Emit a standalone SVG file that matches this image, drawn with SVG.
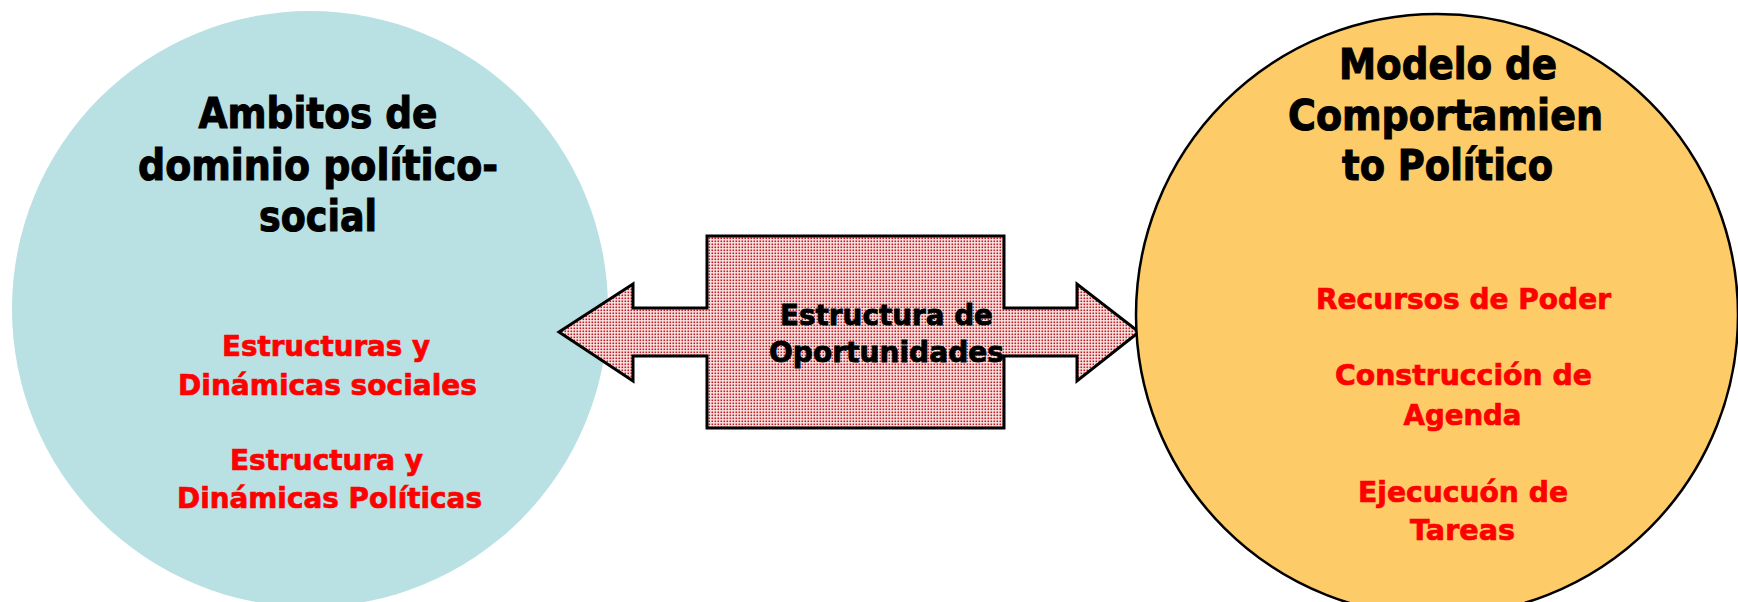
<svg xmlns="http://www.w3.org/2000/svg" width="1738" height="602" viewBox="0 0 1738 602">
  <defs>
    <pattern id="dots" width="3" height="3" patternUnits="userSpaceOnUse">
      <rect width="3" height="3" fill="#f7e4e4"/>
      <rect x="0.5" y="0.5" width="1.6" height="1.6" fill="#c4161c"/>
    </pattern>
    <style>
      .t { font-family: "DejaVu Sans", "Liberation Sans", sans-serif; font-weight: bold; text-anchor: middle; }
      .title { font-size: 42px; fill: #000000; stroke: #000000; stroke-width: 1.1px; }
      .sub { font-size: 28.5px; fill: #ff0000; stroke: #ff0000; stroke-width: 0.7px; }
      .mid { font-size: 28.5px; fill: #000000; stroke: #000000; stroke-width: 0.8px; }
    </style>
  </defs>
  <rect width="1738" height="602" fill="#ffffff"/>

  <g id="node-ambitos">
    <circle cx="310" cy="309" r="298" fill="#b9e0e3"/>
    <text class="t title" x="318" y="128" textLength="239" lengthAdjust="spacingAndGlyphs">Ambitos de</text>
    <text class="t title" x="318" y="180" textLength="360" lengthAdjust="spacingAndGlyphs">dominio político-</text>
    <text class="t title" x="318" y="231" textLength="118" lengthAdjust="spacingAndGlyphs">social</text>
    <text class="t sub" x="326" y="356" textLength="208" lengthAdjust="spacingAndGlyphs">Estructuras y</text>
    <text class="t sub" x="327.5" y="395" textLength="299" lengthAdjust="spacingAndGlyphs">Dinámicas sociales</text>
    <text class="t sub" x="326.5" y="470" textLength="193" lengthAdjust="spacingAndGlyphs">Estructura y</text>
    <text class="t sub" x="329.5" y="508" textLength="305" lengthAdjust="spacingAndGlyphs">Dinámicas Políticas</text>
  </g>

  <g id="connectors">
    <g id="node-estructura">
      <path d="M559,332 L633,284 L633,308 L707,308 L707,236 L1004,236 L1004,308 L1077,308 L1077,284 L1139,332 L1077,381 L1077,356 L1004,356 L1004,428 L707,428 L707,356 L633,356 L633,381 Z" fill="url(#dots)" stroke="#000000" stroke-width="3" stroke-linejoin="miter"/>
      <text class="t mid" x="886.5" y="325" textLength="213" lengthAdjust="spacingAndGlyphs">Estructura de</text>
      <text class="t mid" x="886.5" y="362" textLength="235" lengthAdjust="spacingAndGlyphs">Oportunidades</text>
    </g>
  </g>

  <g id="node-modelo">
    <circle cx="1437" cy="315" r="301" fill="#fdcb67" stroke="#000000" stroke-width="2.5"/>
    <text class="t title" x="1448" y="79" textLength="218" lengthAdjust="spacingAndGlyphs">Modelo de</text>
    <text class="t title" x="1445.5" y="130" textLength="315" lengthAdjust="spacingAndGlyphs">Comportamien</text>
    <text class="t title" x="1447.5" y="180" textLength="211" lengthAdjust="spacingAndGlyphs">to Político</text>
    <text class="t sub" x="1463.5" y="309" textLength="295" lengthAdjust="spacingAndGlyphs">Recursos de Poder</text>
    <text class="t sub" x="1463.5" y="385" textLength="257" lengthAdjust="spacingAndGlyphs">Construcción de</text>
    <text class="t sub" x="1462.5" y="425" textLength="118" lengthAdjust="spacingAndGlyphs">Agenda</text>
    <text class="t sub" x="1463" y="502" textLength="210" lengthAdjust="spacingAndGlyphs">Ejecucuón de</text>
    <text class="t sub" x="1462.5" y="540" textLength="105" lengthAdjust="spacingAndGlyphs">Tareas</text>
  </g>
</svg>
